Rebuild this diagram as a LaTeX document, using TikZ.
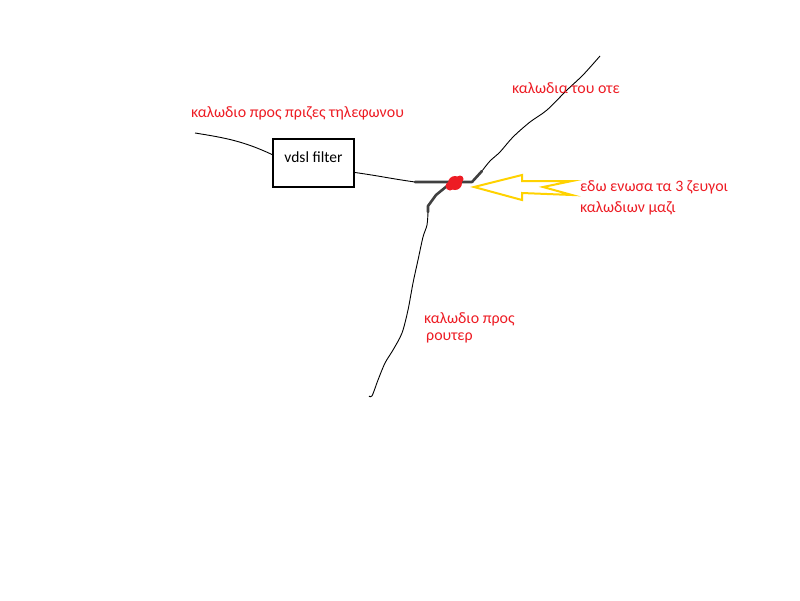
\documentclass[tikz,border=0pt]{standalone}
\usepackage{fontspec}
\setmainfont{Carlito}
\usetikzlibrary{positioning, calc}

\definecolor{notered}{RGB}{237,28,36}
\definecolor{arrowyellow}{RGB}{255,210,0}
\definecolor{splicegray}{RGB}{64,64,64}

\begin{document}
\begin{tikzpicture}[x=1pt, y=-1pt,
  note/.style={text=notered, anchor=base west, inner sep=0pt, font=\fontsize{15.9}{19}\selectfont},
  wire/.style={black, line width=0.9pt, line join=round},
  splice/.style={splicegray, line width=2.6pt, line cap=round, line join=round},
  filterbox/.style={draw, line width=2pt, minimum width=81pt, minimum height=48pt,
    text height=10pt, text depth=12pt, font=\fontsize{15.5}{18.6}\selectfont}]
  \useasboundingbox (0,0) rectangle (800,600);

  % VDSL filter
  \node[filterbox] (filter) at (313.5,163) {vdsl filter};

  % wire ends
  \coordinate (jack) at (195,133);
  \coordinate (ote) at (600,56);
  \coordinate (router) at (369,396);
  \coordinate (joinA) at (415,182);
  \coordinate (joinB) at (482,171);
  \coordinate (joinC) at (428,212);

  % wires
  \draw[wire] (jack) to[out=-9,in=155] ($(filter.north west)!0.33!(filter.south west)$);
  \draw[wire] ($(filter.north east)!0.69!(filter.south east)$) to[out=-8,in=172] (joinA);
  \draw[wire] plot[smooth] coordinates {(joinB) (490,161) (500,152) (513,137) (530,122)
    (547,110) (567,90) (583,75) (ote)};
  \draw[wire] plot[smooth] coordinates {(joinC) (427,225) (423,237) (418,260) (413,283)
    (408,310) (402,333) (393,350) (385,363) (378,380) (372,396) (router)};

  % spliced pairs
  \draw[splice] (joinA) -- (472,182) -- (joinB);
  \draw[splice] (447,186) -- (436,195) -- (428,206) -- (joinC);
  \fill[notered] (455,183) circle (7);
  \fill[notered] (450,186) circle (4.5);
  \fill[notered] (460,179) circle (3.5);

  % yellow arrow
  \draw[arrowyellow, line width=2pt, line join=miter]
    (474,187) -- (522,175) -- (522,181) -- (572,181) -- (543,187)
    -- (572,195) -- (522,193) -- (522,200) -- cycle;

  % labels
  \node[note] (jacklbl) at (191,117) {καλωδιο προς πριζες τηλεφωνου};
  \node[note] (otelbl) at (512,93) {καλωδια του οτε};
  \node[note] (joinlbl) at (580,191) {εδω ενωσα τα 3 ζευγοι};
  \node[note] (joinlbl2) at (580,212) {καλωδιων μαζι};
  \node[note] (routerlbl) at (424,323) {καλωδιο προς};
  \node[note] (routerlbl2) at (426,340) {ρουτερ};
\end{tikzpicture}
\end{document}
